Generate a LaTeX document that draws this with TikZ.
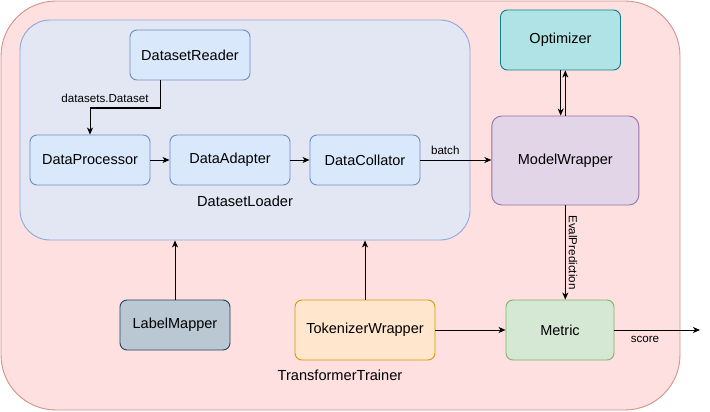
\documentclass[tikz,border=0pt]{standalone}
\usepackage{fontspec}
\setmainfont{Liberation Sans}
\usetikzlibrary{arrows.meta,positioning,calc}
\definecolor{pinkfill}{HTML}{FDE0DF}
\definecolor{pinkdraw}{HTML}{D4908C}
\definecolor{ldfill}{HTML}{E3E6F3}
\definecolor{lddraw}{HTML}{8EA9D9}
\definecolor{bluefill}{HTML}{DAE8FC}
\definecolor{bluedraw}{HTML}{6C8EBF}
\definecolor{optfill}{HTML}{B0E3E6}
\definecolor{optdraw}{HTML}{0E8088}
\definecolor{mwfill}{HTML}{E1D5E7}
\definecolor{mwdraw}{HTML}{9673A6}
\definecolor{metfill}{HTML}{D5E8D4}
\definecolor{metdraw}{HTML}{82B366}
\definecolor{tokfill}{HTML}{FFE6CC}
\definecolor{tokdraw}{HTML}{D79B00}
\definecolor{lmfill}{HTML}{BAC8D3}
\definecolor{lmdraw}{HTML}{23445D}
\tikzset{
  box/.style={rounded corners=7pt, line width=0.9pt, inner sep=0pt, font=\fontsize{14.5}{16}\selectfont, text=black},
  bluebox/.style={box, fill=bluefill, draw=bluedraw},
  conn/.style={line width=1pt, -{Stealth[length=7pt,width=6pt,inset=2pt]}},
  lbl/.style={font=\fontsize{11.6}{13}\selectfont, inner sep=0pt, text=black},
  grouplbl/.style={font=\fontsize{14.6}{16}\selectfont, inner sep=0pt, text=black},
}
\begin{document}
\begin{tikzpicture}[x=1pt,y=-1pt]
\useasboundingbox (0,0) rectangle (710,412);
% containers
\node[draw=pinkdraw, fill=pinkfill, line width=0.9pt, rounded corners=55pt, minimum width=679pt, minimum height=409pt, inner sep=0pt] (trainer) at (340.5,205.5) {};
\node[draw=lddraw, fill=ldfill, line width=0.9pt, rounded corners=30pt, minimum width=450pt, minimum height=220pt, inner sep=0pt] (loader) at (245,130) {};
% nodes
\node[bluebox, minimum width=120pt, minimum height=50pt] (reader) at (190,55) {DatasetReader};
\node[bluebox, minimum width=120pt, minimum height=50pt] (proc) at (90,160) {DataProcessor};
\node[bluebox, minimum width=120pt, minimum height=50pt] (adapt) at (230,160) {DataAdapter};
\node[bluebox, minimum width=110pt, minimum height=50pt] (coll) at (365,160) {DataCollator};
\node[box, fill=optfill, draw=optdraw, minimum width=120pt, minimum height=60pt] (opt) at (560.5,40) {Optimizer};
\node[box, fill=mwfill, draw=mwdraw, minimum width=147pt, minimum height=89pt, rounded corners=10pt] (mw) at (565.3,160.5) {ModelWrapper};
\node[box, fill=metfill, draw=metdraw, minimum width=108pt, minimum height=60pt] (met) at (560,330) {Metric};
\node[box, fill=tokfill, draw=tokdraw, minimum width=140pt, minimum height=60pt] (tok) at (365,330) {TokenizerWrapper};
\node[box, fill=lmfill, draw=lmdraw, minimum width=110pt, minimum height=50pt] (lm) at (175,325) {LabelMapper};
\coordinate (out) at (700,330);
% labels
\node[grouplbl] (dllbl) at (245,201) {DatasetLoader};
\node[grouplbl] (ttlbl) at (340,375) {TransformerTrainer};
% edges
\draw[conn] ([xshift=-30pt]reader.south) |- (90,108) -- (proc.north);
\node[lbl] (dslbl) at (105,98) {datasets.Dataset};
\draw[conn] (proc) -- (adapt);
\draw[conn] (adapt) -- (coll);
\draw[conn] (coll) -- (coll -| mw.west) node[lbl, pos=0.35, above=5pt] (batchlbl) {batch};
\draw[conn] ([xshift=-4.6pt]mw.north |- opt.south) -- ([xshift=-4.6pt]mw.north);
\draw[conn] (mw.north) -- (mw.north |- opt.south);
\draw[conn] (mw.south) -- (mw.south |- met.north) node[lbl, midway, right=3pt, rotate=-90, anchor=south] (evlbl) {EvalPrediction};
\draw[conn] (lm.north) -- (lm.north |- loader.south);
\draw[conn] (tok.north) -- (tok.north |- loader.south);
\draw[conn] (tok) -- (met);
\draw[conn] (met) -- (out);
\node[lbl] (scorelbl) at (645,339) {score};
\end{tikzpicture}
\end{document}
